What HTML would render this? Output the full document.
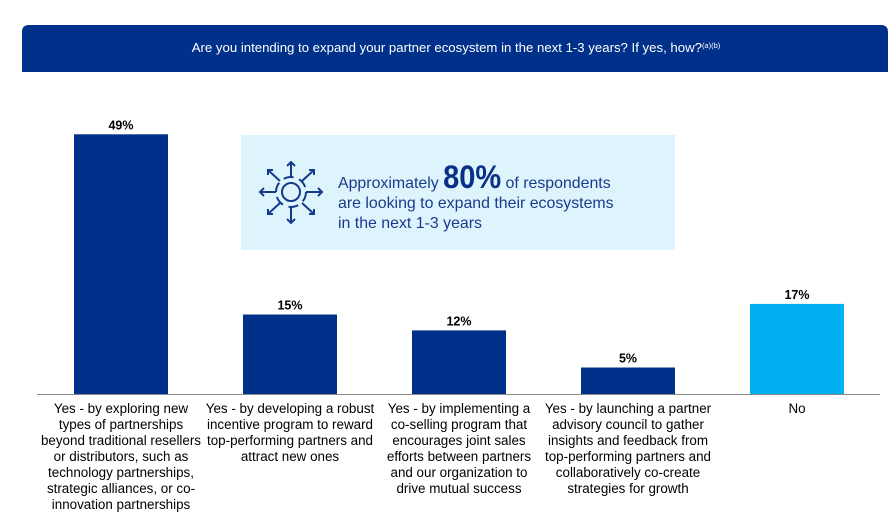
<!DOCTYPE html>
<html><head><meta charset="utf-8"><style>
html,body{margin:0;padding:0;background:#fff;width:896px;height:526px;overflow:hidden;font-family:"Liberation Sans",Arial,sans-serif}
</style></head><body>
<svg width="896" height="526" viewBox="0 0 896 526" xmlns="http://www.w3.org/2000/svg" font-family="Liberation Sans, Arial, sans-serif">
<path d="M22,72 V32 Q22,25 29,25 H881 Q888,25 888,32 V72 Z" fill="#00318a"/>
<text x="456" y="52" fill="#fff" font-size="13.2" text-anchor="middle">Are you intending to expand your partner ecosystem in the next 1-3 years? If yes, how?<tspan font-size="7.5" dy="-4">(a)(b)</tspan></text>
<rect x="241" y="135" width="434" height="115" fill="#def4fc"/>
<g stroke="#143a8a" stroke-width="2" fill="none">
<circle cx="291" cy="192" r="9"/>
<path d="M276,192 A15,15 0 0 1 306,192 M306,192 A15,15 0 0 1 276,192" stroke-dasharray="10 6"/>
<line x1="291" y1="177" x2="291" y2="162"/><line x1="291" y1="207" x2="291" y2="223"/>
<line x1="276" y1="192" x2="260" y2="192"/><line x1="306" y1="192" x2="322" y2="192"/>
<line x1="280" y1="181" x2="268" y2="170"/><line x1="302" y1="181" x2="314" y2="170"/>
<line x1="280" y1="203" x2="268" y2="214"/><line x1="302" y1="203" x2="314" y2="214"/>
<path d="M287,166 L291,162 L295,166 M287,219 L291,223 L295,219 M264,188 L260,192 L264,196 M318,188 L322,192 L318,196 M268,175 V170 H273 M309,170 H314 V175 M268,209 V214 H273 M309,214 H314 V209"/>
</g>
<text x="338" y="188" fill="#1a3a8c" font-size="15.9">Approximately <tspan font-size="32" font-weight="bold" fill="#0a3086" textLength="58" lengthAdjust="spacingAndGlyphs">80%</tspan> of respondents</text>
<text x="338" y="208" fill="#1a3a8c" font-size="15.9">are looking to expand their ecosystems</text>
<text x="338" y="228" fill="#1a3a8c" font-size="15.9">in the next 1-3 years</text>
<line x1="37" y1="394.5" x2="880" y2="394.5" stroke="#888" stroke-width="1"/>
<g id="bars"></g>
</svg>
<script>
const categories=[
["Yes - by exploring new","types of partnerships","beyond traditional resellers","or distributors, such as","technology partnerships,","strategic alliances, or co-","innovation partnerships"],
["Yes - by developing a robust","incentive program to reward","top-performing partners and","attract new ones"],
["Yes - by implementing a","co-selling program that","encourages joint sales","efforts between partners","and our organization to","drive mutual success"],
["Yes - by launching a partner","advisory council to gather","insights and feedback from","top-performing partners and","collaboratively co-create","strategies for growth"],
["No"]];
const values=[49,15,12,5,17];
const colors=["#00318a","#00318a","#00318a","#00318a","#00b0f0"];
const NS="http://www.w3.org/2000/svg";
const g=document.getElementById("bars");
const baseY=394, pxPer=5.3;
function xCenter(i){return 121+i*169;}
function yScale(v){return baseY-v*pxPer;}
values.forEach((v,i)=>{
 const r=document.createElementNS(NS,"rect");
 r.setAttribute("x",xCenter(i)-47);r.setAttribute("width",94);
 r.setAttribute("y",yScale(v));r.setAttribute("height",baseY-yScale(v));
 r.setAttribute("fill",colors[i]);
 
 
 g.appendChild(r);
 const t=document.createElementNS(NS,"text");
 t.setAttribute("x",xCenter(i));t.setAttribute("y",yScale(v)-5);
 t.setAttribute("text-anchor","middle");t.setAttribute("font-size","12.5");t.setAttribute("font-weight","bold");t.setAttribute("fill","#000");
 t.textContent=v+"%";
 
 
 g.appendChild(t);
 categories[i].forEach((line,j)=>{
  const c=document.createElementNS(NS,"text");
  c.setAttribute("x",xCenter(i));c.setAttribute("y",413+j*16);
  c.setAttribute("text-anchor","middle");c.setAttribute("font-size","13.4");c.setAttribute("fill","#000");
  c.textContent=line;
  
  
  g.appendChild(c);
 });
});
</script>
</body></html>
